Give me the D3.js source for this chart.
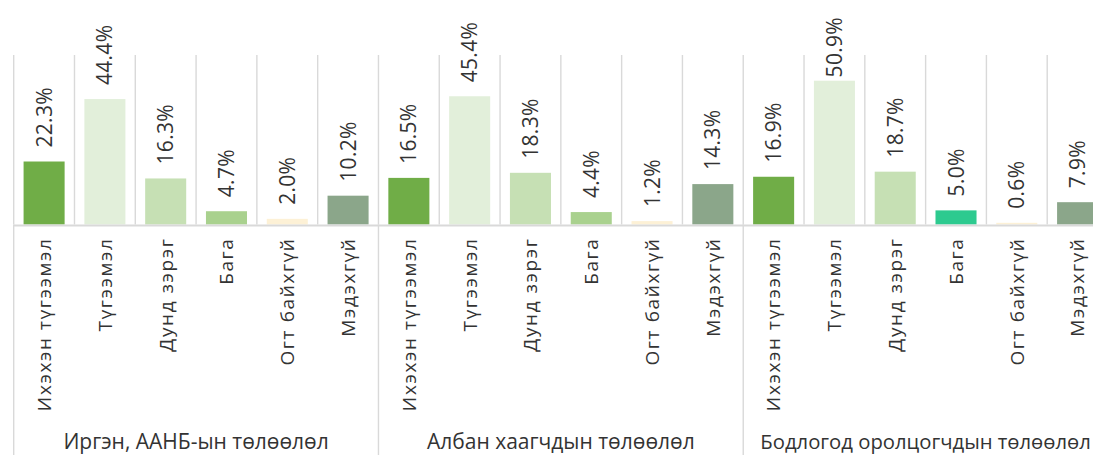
<!DOCTYPE html>
<html>
<head>
<meta charset="utf-8">
<script src="https://cdn.jsdelivr.net/npm/d3@7"></script>
<style>
  html, body { margin: 0; padding: 0; background: #fff; overflow: hidden; }
  svg { display: block; }
  text { font-family: "Open Sans", "Noto Sans", sans-serif; fill: #333; }
</style>
</head>
<body>
<svg id="chart" width="1093" height="455"></svg>
<script>
// Survey answer categories and the three respondent groups
const categories = ["Ихэхэн түгээмэл", "Түгээмэл", "Дунд зэрэг", "Бага", "Огт байхгүй", "Мэдэхгүй"];
const groups = ["Иргэн, ААНБ-ын төлөөлөл", "Албан хаагчдын төлөөлөл", "Бодлогод оролцогчдын төлөөлөл"];

// Share of answers (%) per group, in category order
const citizensValues = [22.3, 44.4, 16.3, 4.7, 2.0, 10.2];
const officialsValues = [16.5, 45.4, 18.3, 4.4, 1.2, 14.3];
const policyValues = [16.9, 50.9, 18.7, 5.0, 0.6, 7.9];
const groupValues = [citizensValues, officialsValues, policyValues];

// Bar fills per category; the third group uses its own tone for "Бага"
const categoryColors = ["#70ad47", "#e2efda", "#c6e0b4", "#a9d18e", "#fdf1d6", "#8ba68a"];
const policyBagaColor = "#2dca8f";

const yTicks = [0, 60];

const svg = d3.select("#chart");
const W = +svg.attr("width");

const plotLeft = 13.7, plotRight = 1108;
const plotTop = 55, baseY = 224.5, bottomY = 455;
const labelCeiling = 17; // value labels never rise above this line

const x0 = d3.scaleBand().domain(groups).range([plotLeft, plotRight]).padding(0);
const x1 = d3.scaleBand().domain(categories).range([0, x0.bandwidth()]).padding(0);
const y = d3.scaleLinear().domain(d3.extent(yTicks)).range([baseY, plotTop]);

const rows = [];
groups.forEach((g, gi) => {
  categories.forEach((c, ci) => {
    rows.push({ group: g, gi, category: c, ci, value: groupValues[gi][ci] });
  });
});

const grid = "#d9d9d9";
const cx = d => x0(d.group) + x1(d.category) + x1.bandwidth() / 2;

// Category separators inside the plot
const sepXs = [];
groups.forEach(g => categories.forEach(c => sepXs.push(x0(g) + x1(c))));
sepXs.push(plotRight);
svg.append("g").selectAll("line").data(sepXs).join("line")
  .attr("x1", d => d).attr("x2", d => d)
  .attr("y1", y(60)).attr("y2", baseY)
  .attr("stroke", grid).attr("stroke-width", 1.4);

// Group dividers running down through the category labels
const groupXs = groups.map(g => x0(g)).concat([plotRight]);
svg.append("g").selectAll("line").data(groupXs).join("line")
  .attr("x1", d => d).attr("x2", d => d)
  .attr("y1", baseY).attr("y2", bottomY)
  .attr("stroke", grid).attr("stroke-width", 1.4);

// Bars
const barW = x1.bandwidth() * 0.675;
svg.append("g").selectAll("rect").data(rows).join("rect")
  .attr("x", d => cx(d) - barW / 2)
  .attr("width", barW)
  .attr("y", d => y(d.value))
  .attr("height", d => baseY - y(d.value))
  .attr("fill", d => (d.gi === 2 && d.ci === 3) ? policyBagaColor : categoryColors[d.ci]);

// Category axis line
svg.append("line")
  .attr("x1", plotLeft).attr("x2", plotRight)
  .attr("y1", baseY + 1).attr("y2", baseY + 1)
  .attr("stroke", grid).attr("stroke-width", 2);

// Value labels above bars, rotated; pushed down when they would pass the ceiling
const fmt = d3.format(".1f");
svg.append("g").selectAll("text").data(rows).join("text")
  .attr("dy", "0.36em")
  .attr("text-anchor", "start")
  .style("font-size", "21px")
  .style("letter-spacing", "0.3px")
  .text(d => fmt(d.value) + "%")
  .attr("transform", function(d) {
    const len = this.getComputedTextLength();
    const start = Math.max(y(d.value) - 14, labelCeiling + len);
    return `translate(${cx(d)},${start}) rotate(-90)`;
  });

// Category labels under the axis, rotated
svg.append("g").selectAll("text").data(rows).join("text")
  .attr("transform", d => `translate(${cx(d)},${baseY + 13}) rotate(-90)`)
  .attr("dy", "0.36em")
  .attr("text-anchor", "end")
  .style("font-size", "19px")
  .style("letter-spacing", "1.6px")
  .text(d => d.category);

// Group labels, centred under each group; shrunk if they would run off the page
svg.append("g").selectAll("text").data(groups).join("text")
  .attr("x", g => x0(g) + x0.bandwidth() / 2)
  .attr("y", 449)
  .attr("text-anchor", "middle")
  .style("font-size", "21px")
  .text(g => g)
  .each(function(g) {
    const mid = x0(g) + x0.bandwidth() / 2;
    const len = this.getComputedTextLength();
    const room = 2 * Math.min(mid - 2, W - 2 - mid);
    if (len > room) d3.select(this).style("font-size", (21 * room / len).toFixed(2) + "px");
  });
</script>
</body>
</html>
